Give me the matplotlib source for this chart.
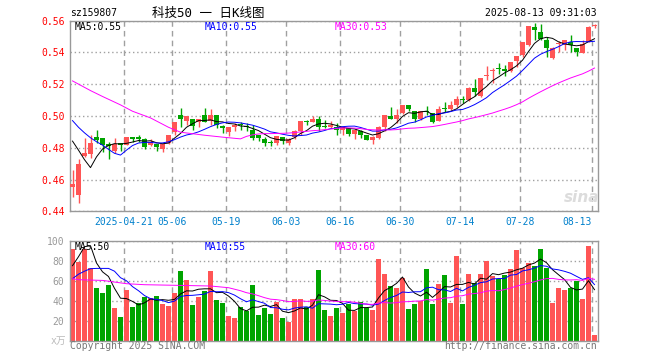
import numpy as np
import pandas as pd
from matplotlib import pyplot as plt

plt.rcParams['font.family'] = ['DejaVu Sans Mono', 'Noto Sans CJK SC']

# daily candles, 2025-04-08 .. 2025-08-13
opens = [0.455, 0.4505, 0.475, 0.476, 0.4867, 0.486, 0.4825, 0.4779, 0.4825, 0.482,
         0.4862, 0.4862, 0.4858, 0.4817, 0.4825, 0.4792, 0.4831, 0.490, 0.5004, 0.4971,
         0.4983, 0.4963, 0.5004, 0.4971, 0.5004, 0.4929, 0.490, 0.4933, 0.4946, 0.4933,
         0.4915, 0.4883, 0.4858, 0.4833, 0.4831, 0.4867, 0.4831, 0.4867, 0.4904, 0.4967,
         0.496, 0.4983, 0.493, 0.4929, 0.4933, 0.4915, 0.4925, 0.4888, 0.4904, 0.4879,
         0.4852, 0.4862, 0.4933, 0.5002, 0.4983, 0.5017, 0.5067, 0.5029, 0.4983, 0.5031,
         0.5017, 0.4971, 0.5048, 0.5046, 0.5067, 0.5106, 0.5102, 0.5179, 0.5129, 0.5252,
         0.5281, 0.5298, 0.5296, 0.5283, 0.5346, 0.5383, 0.5446, 0.556, 0.5529, 0.5481,
         0.5367, 0.5454, 0.5444, 0.5463, 0.5429, 0.5394, 0.5467, 0.5569]
highs = [0.466, 0.473, 0.486, 0.488, 0.4913, 0.486, 0.4835, 0.486, 0.4825, 0.4867,
         0.487, 0.4883, 0.4862, 0.4858, 0.4825, 0.4825, 0.488, 0.496, 0.505, 0.5002,
         0.4983, 0.4983, 0.505, 0.5046, 0.5004, 0.4942, 0.4929, 0.4956, 0.496, 0.4956,
         0.4946, 0.4883, 0.4867, 0.485, 0.4877, 0.4867, 0.4862, 0.4915, 0.4971, 0.4975,
         0.4998, 0.5002, 0.4975, 0.4967, 0.4956, 0.4929, 0.4925, 0.4921, 0.4915, 0.4883,
         0.4873, 0.4935, 0.5004, 0.5054, 0.5046, 0.5067, 0.5067, 0.5029, 0.5033, 0.5065,
         0.5017, 0.506, 0.5085, 0.5092, 0.5129, 0.5129, 0.5183, 0.5231, 0.524, 0.5315,
         0.530, 0.5331, 0.5321, 0.5337, 0.5379, 0.5467, 0.5567, 0.5585, 0.5581, 0.5498,
         0.5435, 0.5473, 0.5477, 0.5508, 0.5429, 0.5477, 0.5567, 0.558]
lows = [0.449, 0.445, 0.474, 0.4735, 0.4831, 0.4775, 0.473, 0.4767, 0.478, 0.4817,
        0.4838, 0.4838, 0.4792, 0.4813, 0.478, 0.4773, 0.4825, 0.4883, 0.4929, 0.4946,
        0.4915, 0.4933, 0.4963, 0.4946, 0.4925, 0.4894, 0.4873, 0.4904, 0.4915, 0.4908,
        0.4846, 0.4842, 0.481, 0.4808, 0.4815, 0.4825, 0.4815, 0.4858, 0.4883, 0.4942,
        0.496, 0.4904, 0.4925, 0.4925, 0.4883, 0.4883, 0.4873, 0.4858, 0.4862, 0.4848,
        0.4825, 0.4858, 0.4908, 0.4983, 0.4956, 0.5013, 0.5033, 0.4963, 0.4977, 0.5004,
        0.4956, 0.4971, 0.5025, 0.504, 0.5054, 0.5081, 0.5096, 0.5129, 0.5121, 0.5227,
        0.521, 0.5263, 0.5254, 0.5279, 0.531, 0.5373, 0.5442, 0.5477, 0.5477, 0.5373,
        0.5356, 0.5404, 0.5415, 0.5404, 0.5379, 0.5394, 0.5467, 0.5554]
closes = [0.457, 0.470, 0.4765, 0.483, 0.4848, 0.4817, 0.481, 0.4825, 0.482, 0.4867,
          0.4858, 0.4858, 0.4804, 0.4835, 0.4804, 0.4825, 0.4879, 0.496, 0.4983, 0.4998,
          0.4935, 0.4979, 0.4963, 0.5004, 0.4942, 0.4927, 0.4929, 0.4946, 0.4942, 0.4929,
          0.4862, 0.4862, 0.4833, 0.4831, 0.4877, 0.4842, 0.4858, 0.4908, 0.4967, 0.4963,
          0.4983, 0.4929, 0.4929, 0.4946, 0.4915, 0.4929, 0.4888, 0.4915, 0.4883, 0.4848,
          0.4867, 0.4929, 0.5004, 0.4983, 0.5004, 0.5067, 0.5046, 0.4983, 0.5029, 0.5027,
          0.4963, 0.5046, 0.5044, 0.5067, 0.5104, 0.5102, 0.5179, 0.5154, 0.5238, 0.5256,
          0.5285, 0.5294, 0.5283, 0.5337, 0.5379, 0.5463, 0.5567, 0.554, 0.5483, 0.5425,
          0.5429, 0.5458, 0.5477, 0.5446, 0.540, 0.5456, 0.556, 0.5571]
volumes = [92, 79, 92, 73, 52.7, 47.7, 55.7, 32.7, 23.7, 50.7,
           33.7, 38, 43.3, 42.7, 44.7, 36.7, 34.7, 47.7, 70, 60.3,
           35.7, 43.7, 49.7, 70, 41, 37.7, 25, 23, 33.7, 29.7,
           55.7, 25.7, 33, 27, 39, 22.7, 18.7, 41.3, 42, 33.7,
           42, 71, 30.7, 24.7, 32.7, 27.7, 36.7, 29.7, 38.7, 32.7,
           30.7, 81.7, 66.7, 54.7, 52.7, 62.7, 31.7, 36.7, 39.7, 71.7,
           36.7, 56.7, 65.7, 37.7, 84.7, 36.7, 66.7, 57.7, 66.7, 79.7,
           64.7, 61.3, 65.7, 71.7, 91, 72.7, 77.7, 75, 91.7, 73,
           37.7, 52.7, 50.7, 52.7, 60, 42, 94.7, 5.7]

# moving-average values before the window fills
ma5_head = [0.4842, 0.4785, 0.4725, 0.4675]
ma10_head = [0.4971, 0.4929, 0.4894, 0.4863, 0.4838, 0.4817, 0.479, 0.4765, 0.4754]
ma30_head_idx = [0, 3, 5, 8, 10, 13, 16, 18, 22, 25, 28]
ma30_head = [0.5221, 0.5160, 0.5123, 0.5070, 0.5030, 0.4988, 0.4929, 0.4898, 0.4879, 0.4867, 0.4856]
vma5_head = [75, 84, 94, 95]
vma10_head = [62, 66.5, 69.5, 72, 72.3, 72.3, 72.3, 69.5, 63]
vma30_head_idx = [0, 1, 5, 9, 12, 18, 23, 26, 28]
vma30_head = [62, 61, 60.3, 57, 56, 55.3, 54.7, 53, 50]

date_idx = [9, 17, 26, 36, 45, 55, 65, 75, 87]
date_labels = ['2025-04-21', '05-06', '05-19', '06-03', '06-16', '06-30', '07-14', '07-28', '08-13']
price_ticks = [0.44, 0.46, 0.48, 0.50, 0.52, 0.54, 0.56]
vol_ticks = [20, 40, 60, 80, 100]

RED = '#ff5555'
GREEN = '#00a400'
GRID = '#a0a0a0'
W, H = 660, 360


def fx(px):
    return px / W


def fy(py):
    return 1 - py / H


def with_head(series, window, head_idx, head_vals):
    rolled = pd.Series(series).rolling(window).mean().to_numpy()
    xs = list(head_idx) + list(range(window - 1, len(series)))
    ys = list(head_vals) + list(rolled[window - 1:])
    return xs, ys


n = len(closes)
x = np.arange(n)
o = np.array(opens)
c = np.array(closes)
up = c >= o
cols = np.where(up, RED, GREEN)

fig = plt.figure(figsize=(6.6, 3.6), dpi=100)
ax1 = fig.add_axes([fx(70), fy(211.3), fx(528), (211.3 - 20.7) / H])
ax2 = fig.add_axes([fx(70), fy(340.7), fx(528), 100 / H])

grid_x = [i - 0.42 for i in date_idx]
for ax in (ax1, ax2):
    ax.set_axisbelow(True)
    ax.set_xlim(-0.4167, n - 0.4167)
    for s in ax.spines.values():
        s.set_color('#999999')
        s.set_linewidth(1.0)
    ax.set_xticks(grid_x)
    ax.grid(axis='x', color=GRID, lw=1.0, linestyle=(0, (4, 3)))
    ax.grid(axis='y', color=GRID, lw=1.0, linestyle=(0, (1, 2)))
    ax.tick_params(length=0)

# price panel
ax1.set_ylim(0.44, 0.56)
ax1.vlines(x, lows, highs, color=cols, lw=1.0, zorder=2)
body = np.maximum(np.abs(c - o), 0.0007)
ax1.bar(x, body, bottom=np.minimum(o, c), width=0.83, color=cols, linewidth=0, zorder=3)

xs, ys = with_head(closes, 5, range(4), ma5_head)
ax1.plot(xs, ys, color='black', lw=0.7, zorder=4)
xs, ys = with_head(closes, 10, range(9), ma10_head)
ax1.plot(xs, ys, color='#0000ff', lw=0.7, zorder=4)
xs, ys = with_head(closes, 30, ma30_head_idx, ma30_head)
ax1.plot(xs, ys, color='#ff00ff', lw=0.7, zorder=4)

ax1.set_yticks(price_ticks)
ax1.set_yticklabels(['%.2f' % p for p in price_ticks], color='#ff0000', fontsize=7)
ax1.tick_params(axis='y', pad=4)
ax1.set_xticklabels(date_labels, color='#0080cc', fontsize=7)
ax1.get_xticklabels()[-1].set_horizontalalignment('right')
ax1.tick_params(axis='x', pad=4)

# volume panel
ax2.set_ylim(0, 100)
ax2.bar(x, volumes, width=0.83, color=cols, linewidth=0, zorder=2)
xs, ys = with_head(volumes, 5, range(4), vma5_head)
ax2.plot(xs, ys, color='black', lw=0.7, zorder=4)
xs, ys = with_head(volumes, 10, range(9), vma10_head)
ax2.plot(xs, ys, color='#0000ff', lw=0.7, zorder=4)
xs, ys = with_head(volumes, 30, vma30_head_idx, vma30_head)
ax2.plot(xs, ys, color='#ff00ff', lw=0.7, zorder=4)
ax2.set_yticks(vol_ticks)
ax2.set_yticklabels([str(v) for v in vol_ticks], color='#999999', fontsize=7)
ax2.tick_params(axis='y', pad=4)
ax2.set_xticklabels([])

# texts
fig.text(fx(70), fy(13), 'sz159807', fontsize=7, va='center')
fig.text(fx(152), fy(13), '科技50 一 日K线图', fontsize=9, va='center')
fig.text(fx(597), fy(13), '2025-08-13 09:31:03', fontsize=7, va='center', ha='right')

fig.text(fx(75), fy(26.5), 'MA5:0.55', fontsize=7, va='center', color='black')
fig.text(fx(205), fy(26.5), 'MA10:0.55', fontsize=7, va='center', color='#0000ff')
fig.text(fx(335), fy(26.5), 'MA30:0.53', fontsize=7, va='center', color='#ff00ff')

fig.text(fx(75), fy(246.5), 'MA5:50', fontsize=7, va='center', color='black')
fig.text(fx(205), fy(246.5), 'MA10:55', fontsize=7, va='center', color='#0000ff')
fig.text(fx(335), fy(246.5), 'MA30:60', fontsize=7, va='center', color='#ff00ff')

fig.text(fx(66), fy(340.5), 'x万', fontsize=7, va='center', ha='right', color='#bbbbbb')
fig.text(fx(70), fy(346), 'Copyright 2025 SINA.COM', fontsize=7, va='center', color='#777777')
fig.text(fx(597), fy(346), 'http://finance.sina.com.cn', fontsize=7, va='center', ha='right', color='#777777')

fig.text(fx(582), fy(197), 'sina', fontsize=11, fontweight='bold', fontstyle='italic',
         family=['DejaVu Sans'], ha='center', va='center', color='#dcdcdc', zorder=1)

fig.savefig('out.png', dpi=100)
